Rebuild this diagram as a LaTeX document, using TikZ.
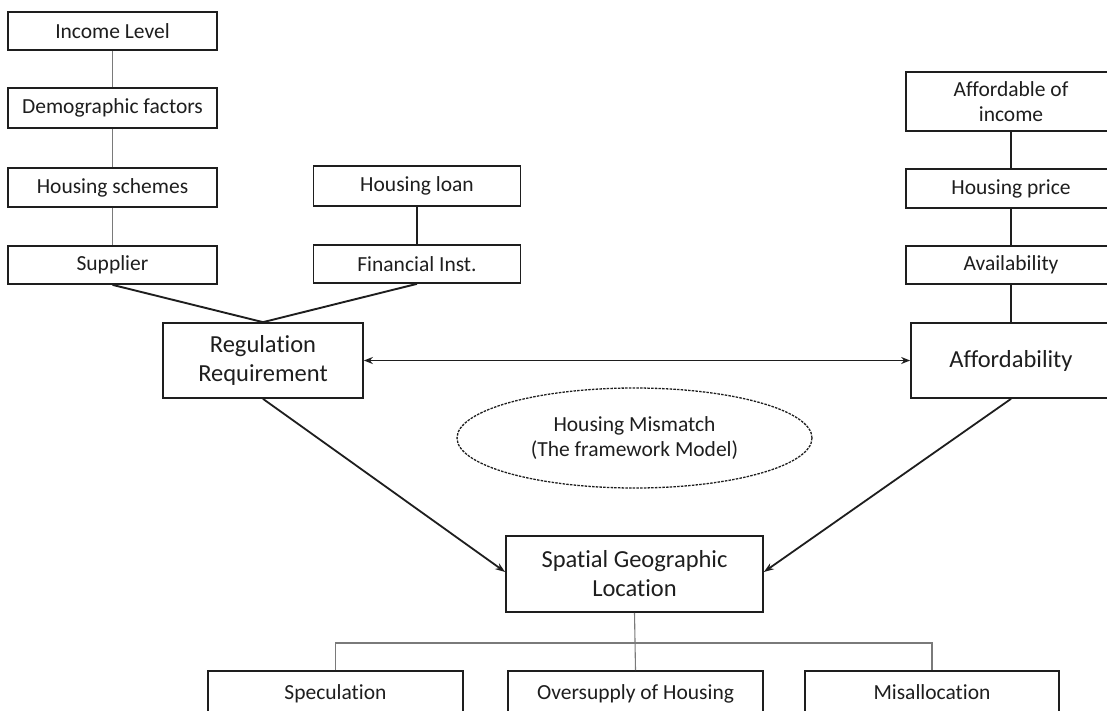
\documentclass[tikz,border=0pt]{standalone}
\usepackage{fontspec}
\setmainfont[Ligatures=NoCommon]{Carlito}
\usetikzlibrary{arrows.meta,shapes.geometric}
\definecolor{ink}{HTML}{1E1E1E}
\definecolor{thin}{HTML}{7A7A7A}
\tikzset{
  smallfont/.style={font=\fontsize{21.5}{25}\selectfont},
  box/.style={draw=ink, line width=1.7pt, fill=white, inner sep=0pt, align=center,
              text=ink, smallfont},
  bigbox/.style={box, font=\fontsize{24.5}{29}\selectfont},
  label/.style={text=ink, smallfont, anchor=base, inner sep=0pt},
  greylink/.style={draw=thin, line width=1.1pt},
  blacklink/.style={draw=ink, line width=1.9pt},
  arrowlink/.style={draw=ink, line width=1.8pt, -{Stealth[length=10pt,width=7pt]}},
  bothlink/.style={draw=ink, line width=1.6pt, {Stealth[length=9pt,width=7pt]}-{Stealth[length=9pt,width=7pt]}},
  dashedellipse/.style={ellipse, draw=ink, line width=1.3pt, dash pattern=on 2.5pt off 1.2pt,
              inner sep=0pt, align=center, text=ink, font=\fontsize{21.5}{25}\selectfont}
}
\begin{document}
\begin{tikzpicture}[x=1pt,y=1pt]
\useasboundingbox (0,0) rectangle (1107,-710);
\clip (0,0) rectangle (1107,-710);

% left column: demand-side factors
\node[box, minimum width=209pt, minimum height=38pt] (inc) at (112.5,-31) {Income Level};
\node[box, minimum width=209pt, minimum height=40pt] (dem) at (112.5,-108) {Demographic factors};
\node[box, minimum width=209pt, minimum height=39pt] (sch) at (112.5,-187.5) {Housing schemes};
\node[box, minimum width=209pt, minimum height=38pt] (sup) at (112.5,-265) {Supplier};

% finance column
\node[box, minimum width=207pt, minimum height=40pt] (loan) at (417,-186) {Housing loan};
\node[box, minimum width=207pt, minimum height=38pt] (fin) at (417,-264) {Financial Inst.};

% right column
\node[box, minimum width=210pt, minimum height=59pt] (aoi) at (1011,-101.5) {Affordable of\\income};
\node[box, minimum width=210pt, minimum height=39pt] (price) at (1011,-188.5) {Housing price};
\node[box, minimum width=210pt, minimum height=38pt] (avail) at (1011,-265) {Availability};

% main blocks
\node[bigbox, minimum width=200pt, minimum height=75pt] (reg) at (263,-360.5) {Regulation\\Requirement};
\node[bigbox, minimum width=200pt, minimum height=75pt] (aff) at (1011,-360.5) {Affordability};
\node[dashedellipse, minimum width=355pt, minimum height=100pt] (mm) at (634.5,-438) {Housing Mismatch\\(The framework Model)};
\node[bigbox, minimum width=257pt, minimum height=76pt] (spat) at (634.5,-574) {Spatial Geographic\\Location};

% outcomes (cut off by the lower edge)
\node[box, minimum width=255pt, minimum height=64pt] (spec) at (335.5,-703) {};
\node[box, minimum width=255pt, minimum height=64pt] (over) at (635.5,-703) {};
\node[box, minimum width=254pt, minimum height=64pt] (mis) at (932,-703) {};
\node[label] (spect) at (335.5,-699) {Speculation};
\node[label] (overt) at (635.5,-699) {Oversupply of Housing};
\node[label] (mist) at (932,-699) {Misallocation};

% connectors
\draw[greylink] (inc) -- (dem);
\draw[greylink] (dem) -- (sch);
\draw[greylink] (sch) -- (sup);
\draw[blacklink] (loan) -- (fin);
\draw[blacklink] (aoi) -- (price);
\draw[blacklink] (price) -- (avail);
\draw[blacklink] (avail) -- (aff);
\draw[blacklink] (sup.south) -- (reg.north);
\draw[blacklink] (fin.south) -- (reg.north);
\draw[bothlink] (reg.east) -- (aff.west);
\draw[arrowlink] (reg.south) -- ([yshift=2pt]spat.west);
\draw[arrowlink] (aff.south) -- ([yshift=2pt]spat.east);

\coordinate (bus) at (634.5,-643);
\draw[greylink] (spat.south) -- (over.north);
\draw[greylink] (spec.north) -- (spec.north |- bus) -- (mis.north |- bus) -- (mis.north);
\end{tikzpicture}
\end{document}
